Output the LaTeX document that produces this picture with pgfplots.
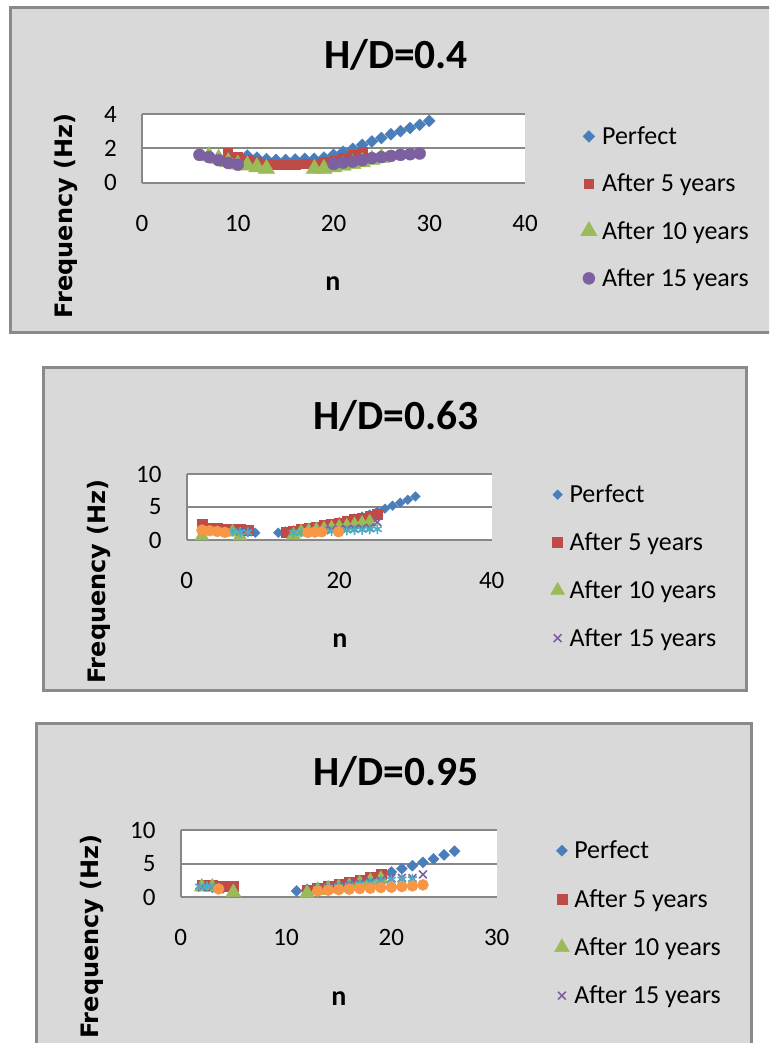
\documentclass[border=0pt]{standalone}
\usepackage{fontspec}
\setmainfont{Carlito}
\newfontfamily\dejavu{DejaVu Sans}
\usepackage{pgfplots}
\pgfplotsset{compat=1.18}
\definecolor{xlblue}{HTML}{4A7EBB}
\definecolor{xlred}{HTML}{BE4B48}
\definecolor{xlgreen}{HTML}{9BBB59}
\definecolor{xlpurple}{HTML}{7D60A0}
\definecolor{xlcyan}{HTML}{4BACC6}
\definecolor{xlorange}{HTML}{F79646}
\definecolor{chartbg}{HTML}{D9D9D9}
\definecolor{framegray}{HTML}{8A8A8A}
\definecolor{gridgray}{HTML}{878787}

\newcommand\tickfont{\fontsize{25}{30}\selectfont}
\newcommand\legfont{\fontsize{26}{31}\selectfont}
\newcommand\titlefont{\fontsize{41.5}{48}\selectfont\bfseries}
\newcommand\nfont{\fontsize{28}{32}\selectfont\bfseries}
\newcommand\ylabfont{\dejavu\bfseries\fontsize{24}{28}\selectfont}

\pgfplotsset{
  xlchart/.style={
    scale only axis, clip=false,
    axis background/.style={fill=white},
    axis x line=bottom, axis y line=left,
    axis line style={-, draw=gridgray, line width=2pt},
    every outer x axis line/.append style={-},
    every outer y axis line/.append style={-},
    ymajorgrids, grid style={draw=gridgray, line width=2pt},
    major tick length=0pt,
    tick label style={font=\tickfont},
    /pgf/number format/assume math mode=true,
    xticklabel style={inner sep=0pt, yshift=-32pt},
    yticklabel style={inner sep=0pt, xshift=-25pt},
    legend style={draw=none, fill=none, font=\legfont, anchor=north west,
      row sep=24pt, column sep=3pt},
    legend cell align=left,
    only marks,
  },
  s1/.style={color=xlblue, mark=square*, mark options={rotate=45}},
  s2/.style={color=xlred, mark=square*},
  s3/.style={color=xlgreen, mark=triangle*},
  s4/.style={color=xlpurple, mark=x, mark options={line width=1.6pt}},
  s5/.style={color=xlcyan, mark=asterisk, mark options={line width=1.6pt}},
  s6/.style={color=xlorange, mark=*},
}

\begin{document}
\begin{tikzpicture}
\path[use as bounding box] (0pt,0pt) rectangle (769pt,-1043pt);
\clip (0pt,0pt) rectangle (769pt,-1043pt);

% chart frames
\draw[framegray, line width=3pt, fill=chartbg] (10pt,-8pt) rectangle (775pt,-332pt);
\draw[framegray, line width=3pt, fill=chartbg] (43pt,-367pt) rectangle (746pt,-690pt);
\draw[framegray, line width=3pt, fill=chartbg] (36pt,-723pt) rectangle (751pt,-1060pt);

% ---------- H/D = 0.4 ----------
\node[font=\titlefont, anchor=base] at (396pt,-68.3pt) {H/D=0.4};
\node[font=\ylabfont, rotate=90] at (65.7pt,-216pt) {Frequency (Hz)};
\node[font=\nfont, anchor=base] at (333pt,-290pt) {n};
\begin{axis}[xlchart,
  at={(142pt,-182.7pt)}, anchor=south west,
  width=383pt, height=68.7pt,
  xmin=0, xmax=40, ymin=0, ymax=4,
  xtick={0,10,20,30,40}, ytick={0,2,4},
  legend style={at={(1.137,0.876)}},
]
\addplot[s1, mark size=4.2] coordinates {
  (11,1.58)(12,1.46)(13,1.37)(14,1.33)(15,1.33)(16,1.35)(17,1.39)(18,1.39)
  (19,1.46)(20,1.62)(21,1.8)(22,1.97)(23,2.2)(24,2.4)(25,2.6)(26,2.82)
  (27,3.0)(28,3.18)(29,3.37)(30,3.6)};
\addlegendentry{Perfect}
\addplot[s2, mark size=4.5] coordinates {
  (9,1.72)(10,1.52)(11,1.33)(12,1.23)(13,1.13)(14,1.07)(15,1.05)(16,1.05)
  (17,1.08)(18,1.13)(19,1.2)(20,1.3)(21,1.46)(22,1.62)(23,1.81)};
\addlegendentry{After 5 years}
\addplot[s3, mark size=9.5] coordinates {
  (7,1.55)(8,1.40)(9,1.20)(10,1.06)(11,1.01)(12,0.91)(13,0.81)
  (18,0.81)(19,0.81)(20,0.91)(21,1.0)(22,1.1)(23,1.2)(24,1.34)(25,1.46)};
\addlegendentry{After 10 years}
\addplot[color=xlpurple, mark=*, mark size=6] coordinates {
  (6,1.62)(7,1.49)(8,1.31)(9,1.15)(10,1.05)
  (20,1.09)(21,1.17)(22,1.23)(23,1.31)(24,1.43)(25,1.49)(26,1.56)
  (27,1.62)(28,1.66)(29,1.70)};
\addlegendentry{After 15 years}
\end{axis}

% ---------- H/D = 0.63 ----------
\node[font=\titlefont, anchor=base] at (396pt,-429.3pt) {H/D=0.63};
\node[font=\ylabfont, rotate=90] at (99pt,-581.5pt) {Frequency (Hz)};
\node[font=\nfont, anchor=base] at (340pt,-647.7pt) {n};
\begin{axis}[xlchart,
  at={(186.7pt,-540pt)}, anchor=south west,
  width=305pt, height=66pt,
  xmin=0, xmax=40, ymin=0, ymax=10,
  xtick={0,20,40}, ytick={0,5,10},
  legend style={at={(1.183,0.897)}, row sep=24.5pt},
]
\addplot[s1, mark size=3.4] coordinates {
  (8,1.2)(9,1.1)(12,1.1)(13,1.3)(14,1.45)(15,1.6)(16,1.8)(17,2.0)(18,2.2)
  (19,2.45)(20,2.7)(21,2.95)(22,3.25)(23,3.55)(24,3.85)(25,4.3)(26,4.75)
  (27,5.2)(28,5.65)(29,6.1)(30,6.6)};
\addlegendentry{Perfect}
\addplot[s2, mark size=5] coordinates {
  (2,2.4)(3,1.8)(4,1.75)(5,1.7)(6,1.7)(7,1.6)(8,1.45)
  (13,1.2)(14,1.4)(15,1.6)(16,1.8)(17,2.0)(18,2.2)(19,2.4)(20,2.6)
  (21,2.85)(22,3.1)(23,3.35)(24,3.6)(25,3.85)};
\addlegendentry{After 5 years}
\addplot[s3, mark size=8] coordinates {
  (2,0.6)(6,1.2)(7,0.6)(14,0.75)(15,1.2)(16,1.35)(17,1.5)(18,1.65)
  (19,1.8)(20,1.95)(21,2.1)(22,2.3)(23,2.5)(24,2.7)};
\addlegendentry{After 10 years}
\addplot[s4, mark size=5.5] coordinates {
  (7,1.3)(8,1.2)(16,1.4)(17,1.45)(18,1.5)(19,1.55)(20,1.6)(21,1.65)
  (22,1.7)(23,1.75)(24,1.85)(25,2.7)};
\addlegendentry{After 15 years}
\addplot[s5, mark size=5, forget plot] coordinates {
  (6,1.3)(7,1.2)(8,1.15)(14,1.1)(15,1.15)(16,1.2)(17,1.25)(18,1.3)
  (19,1.35)(20,1.4)(21,1.45)(22,1.5)(23,1.55)(24,1.6)(25,1.65)};
\addplot[s6, mark size=5.5, forget plot] coordinates {
  (2,1.5)(3,1.4)(4,1.3)(5,1.15)(15.9,1.15)(16.8,1.2)(17.7,1.25)(19.9,1.25)};
\end{axis}

% ---------- H/D = 0.95 ----------
\node[font=\titlefont, anchor=base] at (396pt,-785pt) {H/D=0.95};
\node[font=\ylabfont, rotate=90] at (92pt,-936.5pt) {Frequency (Hz)};
\node[font=\nfont, anchor=base] at (339pt,-1005pt) {n};
\begin{axis}[xlchart,
  at={(180.7pt,-897.3pt)}, anchor=south west,
  width=316pt, height=67.3pt,
  xmin=0, xmax=30, ymin=0, ymax=10,
  xtick={0,10,20,30}, ytick={0,5,10},
  legend style={at={(1.173,0.899)}, row sep=25pt},
]
\addplot[s1, mark size=3.9] coordinates {
  (3,1.5)(4,1.4)(11,0.94)(12,1.2)(13,1.4)(14,1.6)(15,1.85)(16,2.1)(17,2.45)
  (18,2.9)(19,3.35)(20,3.75)(21,4.25)(22,4.7)(23,5.2)(24,5.7)(25,6.3)(26,6.85)};
\addlegendentry{Perfect}
\addplot[s2, mark size=5] coordinates {
  (2,1.8)(3,1.8)(4,1.7)(5,1.6)(12,1.1)(13,1.35)(14,1.65)(15,1.95)
  (16,2.25)(17,2.6)(18,3.0)(19,3.45)};
\addlegendentry{After 5 years}
\addplot[s3, mark size=8.5] coordinates {
  (2,1.55)(3,1.55)(5,0.76)(12,0.62)(13,1.04)(14,1.28)(15,1.45)(16,1.65)
  (17,2.05)(18,2.4)(19,2.7)};
\addlegendentry{After 10 years}
\addplot[s4, mark size=5.5] coordinates {
  (2,1.5)(3,1.5)(13,1.3)(14,1.5)(15,1.7)(16,1.9)(17,2.1)(18,2.3)(19,2.5)
  (20,2.85)(21,2.9)(22,2.85)(23,3.4)};
\addlegendentry{After 15 years}
\addplot[s5, mark size=5, forget plot] coordinates {
  (1.8,1.6)(2.5,1.6)(3.1,1.6)(13,1.25)(14,1.45)(15,1.6)(16,1.8)(17,2.0)
  (18,2.2)(19,2.4)(20,2.6)(21,2.65)(22,2.7)};
\addplot[s6, mark size=5.5, forget plot] coordinates {
  (3.6,1.25)(13,0.95)(14,1.05)(15,1.15)(16,1.2)(17,1.3)(18,1.35)(19,1.45)
  (20,1.5)(21,1.6)(22,1.7)(23,1.85)};
\end{axis}
\end{tikzpicture}
\end{document}
